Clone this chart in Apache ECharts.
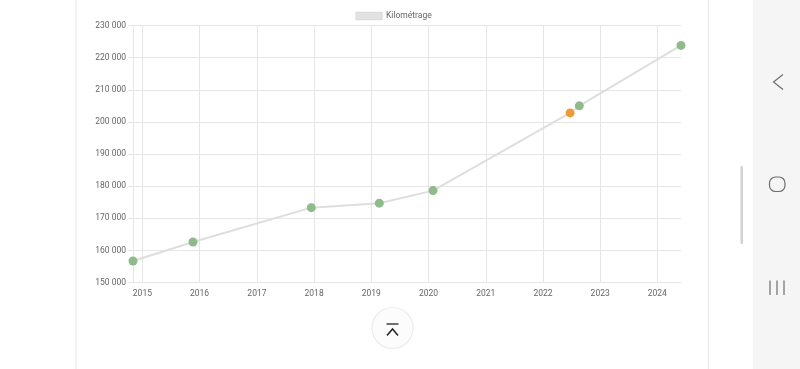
<!DOCTYPE html>
<html>
<head>
<meta charset="utf-8">
<script src="https://cdn.jsdelivr.net/npm/echarts@6/dist/echarts.min.js"></script>
<style>
  html, body { margin: 0; padding: 0; background: #ffffff; }
  #chart { width: 800px; height: 369px; }
</style>
</head>
<body>
<div id="chart"></div>
<script>
// ---- data ----
const seriesName = 'Kilométrage';
const dates = ['2014-11-02', '2015-11-20', '2017-12-14', '2019-02-21', '2020-01-30', '2022-06-23', '2022-08-21', '2024-05-31'];
const km = [156700, 162600, 173300, 174700, 178600, 202800, 205000, 223800];
const status = ['releve', 'releve', 'releve', 'releve', 'releve', 'estimation', 'releve', 'releve'];
const yTicks = [150000, 160000, 170000, 180000, 190000, 200000, 210000, 220000, 230000];

const GREEN = '#8fbb8b';
const ORANGE = '#ee9a3a';
const GRID = '#e6e6e6';
const LABEL = '#666666';
const FONT = 'Roboto';
const FS = 8.5;

function fmt(v) {
  return String(v).replace(/\B(?=(\d{3})+(?!\d))/g, ' ');
}

const seriesData = dates.map((d, i) => ({
  value: [d, km[i]],
  itemStyle: { color: status[i] === 'estimation' ? ORANGE : GREEN }
}));

const chart = echarts.init(document.getElementById('chart'), null, { renderer: 'canvas' });
chart.setOption({
  animation: false,
  backgroundColor: '#ffffff',
  textStyle: { fontFamily: FONT },
  legend: {
    data: [{ name: seriesName, icon: 'rect', itemStyle: { color: '#e2e2e2', borderColor: '#d6d6d6', borderWidth: 1 } }],
    left: 355.5, top: 11.5,
    itemWidth: 26, itemHeight: 7.5, itemGap: 10,
    textStyle: { color: LABEL, fontSize: FS, fontFamily: FONT, padding: [0, 0, 0, -1] },
    padding: 0
  },
  grid: { left: 133, right: 119, top: 25.5, bottom: 86.5, containLabel: false, outerBoundsMode: 'none' },
  xAxis: {
    type: 'time',
    min: 'dataMin', max: 'dataMax',
    minInterval: 365 * 24 * 3600 * 1000,
    maxInterval: 366 * 24 * 3600 * 1000,
    axisLine: { show: true, lineStyle: { color: GRID, width: 1 } },
    axisTick: { show: false },
    axisLabel: {
      color: LABEL, fontSize: FS, fontFamily: FONT, margin: 7,
      formatter: '{yyyy}', showMinLabel: false, showMaxLabel: false
    },
    splitLine: { show: true, showMinLine: true, showMaxLine: false, lineStyle: { color: GRID, width: 1 } }
  },
  yAxis: {
    type: 'value',
    min: yTicks[0], max: yTicks[yTicks.length - 1], interval: yTicks[1] - yTicks[0],
    axisLine: { show: true, lineStyle: { color: GRID, width: 1 } },
    axisTick: { show: true, length: 5, lineStyle: { color: GRID } },
    axisLabel: { color: LABEL, fontSize: FS, fontFamily: FONT, margin: 7, formatter: fmt },
    splitLine: { show: true, lineStyle: { color: GRID, width: 1 } }
  },
  series: [{
    name: seriesName,
    type: 'line',
    data: seriesData,
    symbol: 'circle',
    symbolSize: 9,
    showAllSymbol: true,
    lineStyle: { color: '#dedede', width: 2 },
    itemStyle: { color: GREEN },
    emphasis: { disabled: true },
    z: 3
  }],
  graphic: [
    // card borders
    { type: 'rect', silent: true, z: -10, shape: { x: 75.5, y: 0, width: 1, height: 369 }, style: { fill: '#e8e8e8' } },
    { type: 'rect', silent: true, z: -10, shape: { x: 708, y: 0, width: 1, height: 369 }, style: { fill: '#e8e8e8' } },
    // scrollbar
    { type: 'rect', silent: true, shape: { x: 740.5, y: 166, width: 2.5, height: 78, r: 1 }, style: { fill: '#d2d2d2' } },
    // nav bar
    { type: 'rect', silent: true, shape: { x: 753, y: 0, width: 47, height: 369 }, style: { fill: '#f5f5f5' } },
    { type: 'polyline', silent: true, shape: { points: [[783, 74.5], [773.5, 82], [783, 89.5]] }, style: { stroke: '#6e6e6e', lineWidth: 1.2, fill: null } },
    { type: 'rect', silent: true, shape: { x: 769.5, y: 177, width: 15.5, height: 14.5, r: 6 }, style: { stroke: '#6e6e6e', lineWidth: 1.2, fill: null } },
    { type: 'line', silent: true, shape: { x1: 770, y1: 280.5, x2: 770, y2: 295 }, style: { stroke: '#6e6e6e', lineWidth: 1.2 } },
    { type: 'line', silent: true, shape: { x1: 777, y1: 280.5, x2: 777, y2: 295 }, style: { stroke: '#6e6e6e', lineWidth: 1.2 } },
    { type: 'line', silent: true, shape: { x1: 784, y1: 280.5, x2: 784, y2: 295 }, style: { stroke: '#6e6e6e', lineWidth: 1.2 } },
    // scroll-to-top button
    { type: 'circle', silent: true, shape: { cx: 392.5, cy: 328, r: 20.5 }, style: { fill: '#fcfcfc', stroke: '#ececec', lineWidth: 1.2 } },
    { type: 'line', silent: true, shape: { x1: 386.5, y1: 324, x2: 398.5, y2: 324 }, style: { stroke: '#222', lineWidth: 1.3 } },
    { type: 'polyline', silent: true, shape: { points: [[387, 335.5], [392.5, 329], [398, 335.5]] }, style: { stroke: '#222', lineWidth: 1.5, fill: null } }
  ]
});
</script>
</body>
</html>
